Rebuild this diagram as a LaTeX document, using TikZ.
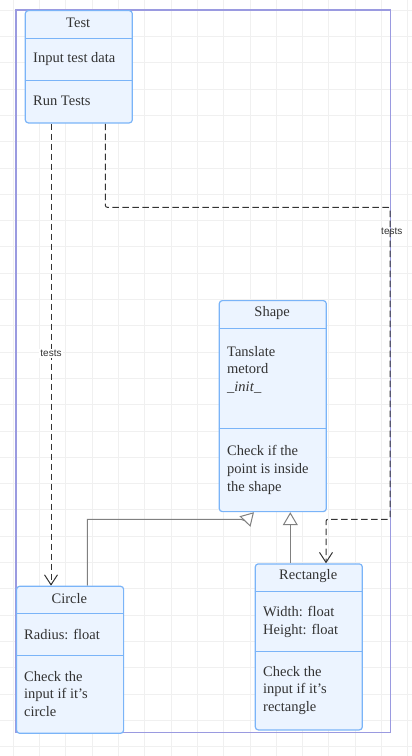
\documentclass[tikz,border=0pt]{standalone}
\usepackage{fontspec}
\setmainfont{Liberation Serif}[Ligatures=ResetAll]
\setsansfont{Liberation Sans}
\usetikzlibrary{arrows.meta}
\definecolor{gridc}{HTML}{F0F0F0}
\definecolor{framec}{HTML}{9A9AE0}
\definecolor{boxfill}{HTML}{ECF4FF}
\definecolor{boxline}{HTML}{7AB4F8}
\definecolor{txt}{HTML}{333333}
\definecolor{solidc}{HTML}{808080}
\definecolor{dashc}{HTML}{333333}
\pgfdeclarelayer{bg}
\pgfdeclarelayer{mid}
\pgfsetlayers{bg,mid,main}
\begin{document}
\begin{tikzpicture}[x=1pt,y=-1pt,
 classbox/.style={draw=boxline, fill=boxfill, line width=1.2pt, rounded corners=3pt, minimum width=107pt, inner sep=0pt, anchor=north west},
 divider/.style={draw=boxline, line width=1.2pt},
 title/.style={font=\fontsize{14.5}{17.7}\selectfont, text=txt, inner sep=0pt},
 member/.style={font=\fontsize{14.5}{17.7}\selectfont, text=txt, inner sep=0pt, anchor=west, align=left},
 dep/.style={draw=dashc, line width=1pt, dash pattern=on 6.5pt off 3.5pt, -{Straight Barb[length=10pt,width=13pt]}},
 gen/.style={draw=solidc, line width=1pt, -{Triangle[open,length=13pt,width=15pt,fill=white]}},
 lbl/.style={font=\fontsize{10}{12}\selectfont\sffamily, text=txt, inner sep=1pt},
 gridline/.style={draw=gridc, line width=1pt},
 framebox/.style={draw=framec, line width=1.5pt}
]
\useasboundingbox (0,0) rectangle (412,756);
\begin{pgfonlayer}{bg}
\fill[white] (0,0) rectangle (412,756);
\foreach \i in {0,...,15} \draw[gridline] (13.3+26.3*\i,0) -- (13.3+26.3*\i,756);
\foreach \i in {0,...,28} \draw[gridline] (0,10.2+26.3*\i) -- (412,10.2+26.3*\i);
\draw[framebox] (16,10) rectangle (390.5,732.5);
\end{pgfonlayer}

% Test
\node[classbox, minimum height=112.3pt] (test) at (24.7,10) {};
\draw[divider] (test.west |- 0,38.3) -- (test.east |- 0,38.3);
\draw[divider] (test.west |- 0,80.3) -- (test.east |- 0,80.3);
\node[title] (testT) at (78.2,22.5) {Test};
\node[member] (testA) at (33,59.5) {Input test data};
\node[member] (testM) at (33,101.3) {Run Tests};

% Shape
\node[classbox, minimum height=211pt] (shape) at (218.7,300) {};
\draw[divider] (shape.west |- 0,328.3) -- (shape.east |- 0,328.3);
\draw[divider] (shape.west |- 0,428.3) -- (shape.east |- 0,428.3);
\node[title] (shapeT) at (272.2,313) {Shape};
\node[member] (shapeA) at (227,369.8) {Tanslate\\metord\\\_\textit{init}\_};
\node[member] (shapeM) at (227,470) {Check if the\\point is inside\\the shape};

% Circle
\node[classbox, minimum height=147pt] (circle) at (16,585.7) {};
\draw[divider] (circle.west |- 0,613.3) -- (circle.east |- 0,613.3);
\draw[divider] (circle.west |- 0,655.7) -- (circle.east |- 0,655.7);
\node[title] (circT) at (69.3,598.5) {Circle};
\node[member] (circA) at (24,634) {Radius: float};
\node[member] (circM) at (24,694) {Check the\\input if it's\\circle};

% Rectangle
\node[classbox, minimum height=166pt] (rect) at (254.7,563.3) {};
\draw[divider] (rect.west |- 0,591.7) -- (rect.east |- 0,591.7);
\draw[divider] (rect.west |- 0,651.7) -- (rect.east |- 0,651.7);
\node[title] (rectT) at (308.2,576.5) {Rectangle};
\node[member] (rectA) at (263,621.7) {Width: float\\Height: float};
\node[member] (rectM) at (263,690.5) {Check the\\input if it's\\rectangle};

\begin{pgfonlayer}{mid}
\draw[dep] ([xshift=26.3pt]test.south west) -- node[lbl, fill=white, pos=0.498] (lblA) {tests} ([xshift=35pt]circle.north west);
\draw[dep, rounded corners=2pt] ([xshift=80.6pt]test.south west) |- (390,207.3) |- (326,519.3) -- ([xshift=71.3pt]rect.north west);
\node[lbl] (lblB) at (391.8,231.5) {tests};
\draw[gen] ([xshift=71.3pt]circle.north west) |- (241,519.3) -- (245.6,520.9) -- ([xshift=35.3pt]shape.south west);
\draw[gen] ([xshift=35.6pt]rect.north west) -- ([xshift=71.6pt]shape.south west);
\end{pgfonlayer}
\end{tikzpicture}
\end{document}
